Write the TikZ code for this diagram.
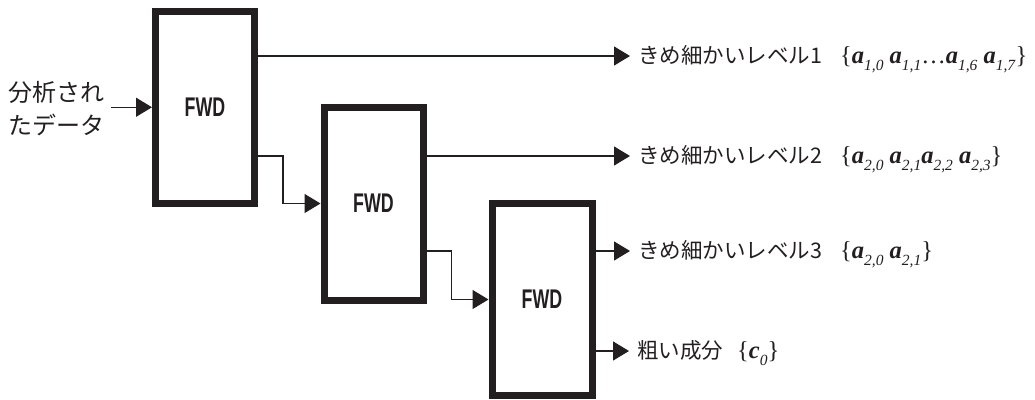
\documentclass[tikz,border=0pt]{standalone}
\usepackage{fontspec}
\setmainfont{Liberation Serif}
\newfontfamily\jp{Noto Sans CJK JP}
\newfontfamily\fwdfont{Liberation Sans}
\usetikzlibrary{arrows.meta}
\definecolor{ink}{HTML}{231F20}
\newcommand\elem[2]{\textbf{\textit{#1}}\raisebox{-0.28em}{\fontsize{15.5}{15.5}\selectfont\textit{#2}}}
\newcommand\mset[1]{{\rmfamily\fontsize{24.5}{24.5}\selectfont\{#1\}}}
\newcommand\fwdtext{\raisebox{-2pt}{\scalebox{0.66}[1]{FWD}}}
\begin{document}
\begin{tikzpicture}[x=1pt,y=-1pt,
  fwdbox/.style={draw=ink, line width=7pt, inner sep=0pt, text=ink,
    font=\fwdfont\bfseries\fontsize{27}{27}\selectfont},
  conn/.style={draw=ink, line width=1.3pt, -{Triangle[length=16pt,width=19pt]}},
  lbl/.style={inner sep=0pt, anchor=base west, text=ink,
    font=\jp\fontsize{21.5}{21.5}\selectfont},
  intext/.style={inner sep=0pt, anchor=west, align=left, text=ink,
    font=\jp\fontsize{24}{33}\selectfont}]
\useasboundingbox (0,0) rectangle (1035,399);

\node[fwdbox, minimum width=99pt, minimum height=192.5pt] (b1) at (205,107.25) {\fwdtext};
\node[fwdbox, minimum width=99pt, minimum height=193pt] (b2) at (373.5,203.5) {\fwdtext};
\node[fwdbox, minimum width=100pt, minimum height=192pt] (b3) at (542,299.5) {\fwdtext};

\node[intext] (in) at (8,108.5) {分析され\\たデータ};

\node[lbl] (l1) at (638,63.5) {きめ細かいレベル1\hspace{18pt}\mset{\elem{a}{1,0} \elem{a}{1,1}\ldots\elem{a}{1,6} \elem{a}{1,7}}};
\node[lbl] (l2) at (638,163.5) {きめ細かいレベル2\hspace{18pt}\mset{\elem{a}{2,0} \elem{a}{2,1}\elem{a}{2,2} \elem{a}{2,3}}};
\node[lbl] (l3) at (638,258.5) {きめ細かいレベル3\hspace{18pt}\mset{\elem{a}{2,0} \elem{a}{2,1}}};
\node[lbl] (l4) at (637,358.5) {粗い成分\hspace{14pt}\mset{\textbf{\textit{c}}\raisebox{-0.28em}{\fontsize{15.5}{15.5}\selectfont\textit{0}}}};

\coordinate (s0) at ([xshift=7pt]in.east);
\coordinate (t1) at ([xshift=-8pt,yshift=7.5pt]l1.base west);
\coordinate (t2) at ([xshift=-8pt,yshift=7.5pt]l2.base west);
\coordinate (t3) at ([xshift=-8pt,yshift=7.5pt]l3.base west);
\coordinate (t4) at ([xshift=-8pt,yshift=7.5pt]l4.base west);

\draw[conn] (s0 |- b1.west) -- (b1.west);
\draw[conn] (b1.east |- t1) -- (t1);
\draw[conn] (b1.east |- t2) -- ++(25,0) |- (b2.west);
\draw[conn] (b2.east |- t2) -- (t2);
\draw[conn] (b2.east |- t3) -- ++(25,0) |- (b3.west);
\draw[conn] (b3.east |- t3) -- (t3);
\draw[conn] (b3.east |- t4) -- (t4);
\end{tikzpicture}
\end{document}
